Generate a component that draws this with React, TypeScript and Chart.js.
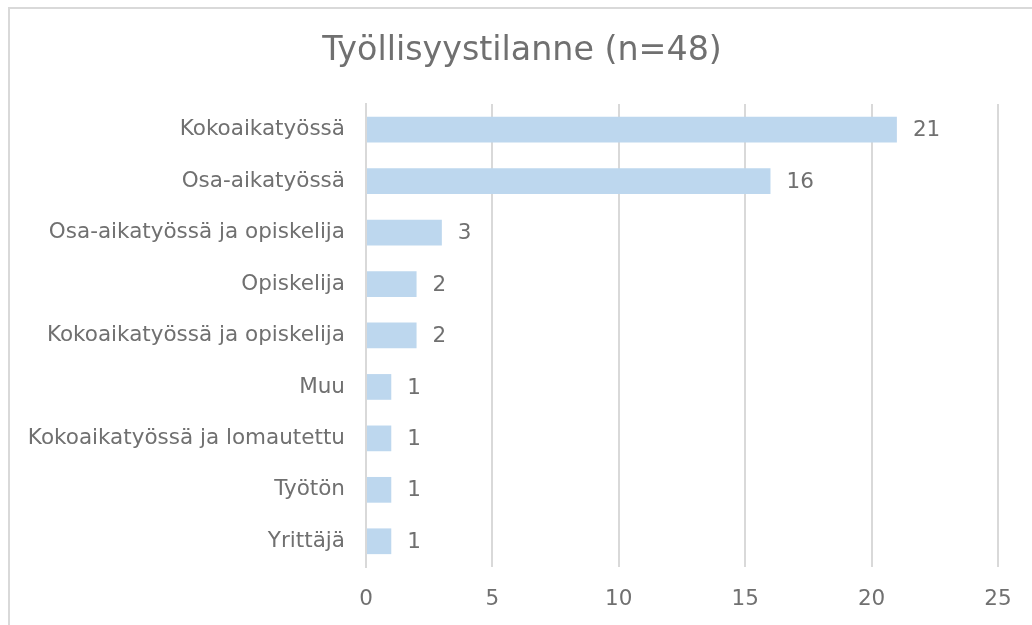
import React, { useEffect, useRef } from "react";
import { Chart, registerables } from "chart.js";

Chart.register(...registerables);

const chartTitle = "Työllisyystilanne (n=48)";
const categories = [
  "Kokoaikatyössä",
  "Osa-aikatyössä",
  "Osa-aikatyössä ja opiskelija",
  "Opiskelija",
  "Kokoaikatyössä ja opiskelija",
  "Muu",
  "Kokoaikatyössä ja lomautettu",
  "Työtön",
  "Yrittäjä",
];
const counts = [21, 16, 3, 2, 2, 1, 1, 1, 1];
const axisMin = 0;
const axisMax = 25;
const axisStep = 5;

const FONT = "'DejaVu Sans', sans-serif";
const TEXT = "#707070";
const LABEL_SIZE = 21.5;

const valueLabels = {
  id: "valueLabels",
  afterLayout(chart: any) {
    const t = chart.titleBlock;
    if (t) {
      t.left = 46;
      t.right = 998;
    }
  },
  afterDatasetsDraw(chart: any) {
    const ctx = chart.ctx;
    const meta = chart.getDatasetMeta(0);
    ctx.save();
    ctx.font = `${LABEL_SIZE}px ${FONT}`;
    ctx.fillStyle = TEXT;
    ctx.textAlign = "left";
    ctx.textBaseline = "middle";
    meta.data.forEach((bar: any, i: number) => {
      ctx.fillText(String(chart.data.datasets[0].data[i]), bar.x + 16, bar.y + 1);
    });
    ctx.restore();
  },
};

export default function App() {
  const ref = useRef<HTMLCanvasElement>(null);
  useEffect(() => {
    const chart = new Chart(ref.current!, {
      type: "bar",
      data: {
        labels: categories,
        datasets: [
          {
            data: counts,
            backgroundColor: "#BDD7EE",
            borderWidth: 0,
            categoryPercentage: 1,
            barPercentage: 0.5,
          },
        ],
      },
      plugins: [valueLabels],
      options: {
        indexAxis: "y",
        responsive: false,
        animation: false,
        layout: { padding: { left: 8, right: 34, top: 31, bottom: 0 } },
        plugins: {
          legend: { display: false },
          tooltip: { enabled: false },
          title: {
            display: true,
            text: chartTitle,
            color: TEXT,
            font: { family: FONT, size: 33.3, weight: "normal" },
            padding: { top: 0, bottom: 33 },
          },
        },
        scales: {
          x: {
            min: axisMin,
            max: axisMax,
            ticks: {
              stepSize: axisStep,
              color: TEXT,
              font: { family: FONT, size: LABEL_SIZE },
              padding: 20,
            },
            grid: { color: "#d9d9d9", lineWidth: 2, drawTicks: false },
            border: { display: false },
            afterFit(scale: any) {
              scale.height = 58;
            },
          },
          y: {
            ticks: {
              color: TEXT,
              font: { family: FONT, size: LABEL_SIZE },
              padding: 21,
            },
            grid: { display: false, drawTicks: false },
            border: { display: true, color: "#d9d9d9", width: 2 },
            afterFit(scale: any) {
              scale.width = 358;
            },
          },
        },
      },
    });
    return () => chart.destroy();
  }, []);
  return (
    <div style={{ position: "absolute", left: 0, top: 0, width: 1032, height: 625, background: "#fff", overflow: "hidden" }}>
      <div style={{ position: "absolute", left: 8, top: 7, width: 1100, height: 700, border: "2px solid #d9d9d9", boxSizing: "border-box" }} />
      <canvas ref={ref} width={1032} height={625} style={{ position: "absolute", left: 0, top: 0 }} />
    </div>
  );
}
